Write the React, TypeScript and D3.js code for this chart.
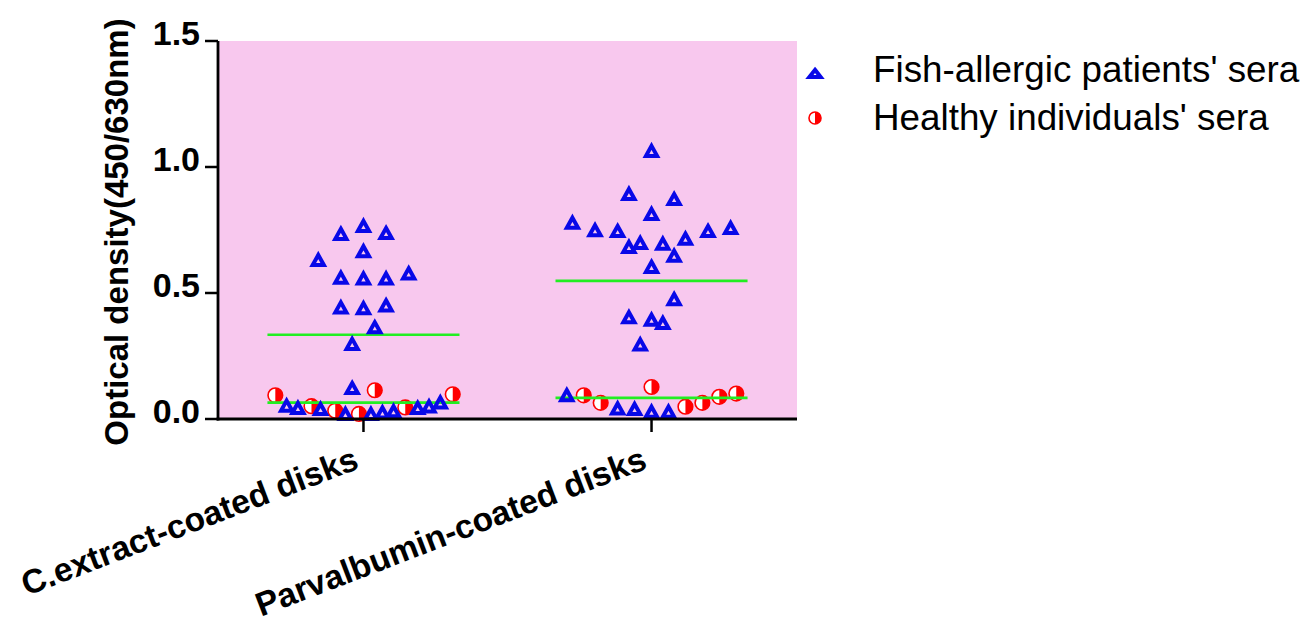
import React from "react";
import * as d3 from "d3";

// ---- data ----
const categories = ["C.extract-coated disks", "Parvalbumin-coated disks"];
const seriesNames = ["Fish-allergic patients' sera", "Healthy individuals' sera"];
const yTicks = [0, 0.5, 1.0, 1.5];
const yTickLabels = ["0.0", "0.5", "1.0", "1.5"];
const yTitle = "Optical density(450/630nm)";

// Fish-allergic patients, C.extract-coated disks (OD values)
const patientsExtract = [
  0.737, 0.768, 0.74, 0.668, 0.633, 0.563, 0.56, 0.56, 0.58, 0.445, 0.442, 0.453, 0.366, 0.3, 0.125,
  0.055, 0.046, 0.042, 0.022, 0.022, 0.028, 0.033, 0.046, 0.052, 0.068,
];
// column-scatter slot (symbol-width units) for each point
const patientsExtractSlot = [
  -1, 0, 1, 0, -2, -1, 0, 1, 2, -1, 0, 1, 0.5, -0.5, -0.5,
  -3.4, -2.9, -1.9, -0.8, 0.33, 0.84, 1.33, 2.4, 2.9, 3.4,
];
// Healthy individuals, C.extract-coated disks
const healthyExtract = [0.094, 0.114, 0.098, 0.051, 0.033, 0.02, 0.046];
const healthyExtractSlot = [-3.9, 0.5, 3.95, -2.3, -1.25, -0.2, 1.85];

// Fish-allergic patients, Parvalbumin-coated disks
const patientsParv = [
  1.066, 0.895, 0.875, 0.816, 0.781, 0.751, 0.748, 0.76, 0.748, 0.685, 0.701, 0.698, 0.718, 0.65, 0.606,
  0.478, 0.406, 0.396, 0.383, 0.298, 0.097, 0.044, 0.042, 0.031, 0.031,
];
const patientsParvSlot = [
  0, -1, 1, 0, -3.5, -2.5, -1.5, 3.5, 2.5, -1, -0.5, 0.5, 1.5, 1, 0,
  1, -1, 0, 0.5, -0.5, -3.75, -1.5, -0.75, 0, 0.75,
];
// Healthy individuals, Parvalbumin-coated disks
const healthyParv = [0.127, 0.094, 0.064, 0.049, 0.064, 0.088, 0.101];
const healthyParvSlot = [0, -3, -2.25, 1.5, 2.25, 3, 3.75];

const patients = [patientsExtract, patientsParv];
const patientsSlots = [patientsExtractSlot, patientsParvSlot];
const healthy = [healthyExtract, healthyParv];
const healthySlots = [healthyExtractSlot, healthyParvSlot];

// ---- layout ----
const W = 1306;
const H = 623;
const plot = { left: 218, right: 797, top: 41, bottom: 419 };
const FONT = "'Liberation Sans', Arial, Helvetica, sans-serif";
const BLUE = "#0808e8";
const RED = "#ff0000";
const GREEN = "#22ee22";
const PINK = "#f8c8ee";

const trianglePath = (sx: number, sy: number) =>
  `M0,${-4.5 * sy}L${5.6 * sx},${5.6 * sy}L${-5.6 * sx},${5.6 * sy}Z`;

function Triangle({ x, y, sx = 1, sy = 1 }: { x: number; y: number; sx?: number; sy?: number }) {
  return (
    <path
      d={trianglePath(sx, sy)}
      transform={`translate(${x},${y})`}
      fill="none"
      stroke={BLUE}
      strokeWidth={4}
      strokeLinejoin="miter"
    />
  );
}

function HalfCircle({ x, y, r = 7.3 }: { x: number; y: number; r?: number }) {
  const arc = d3.arc()({ innerRadius: 0, outerRadius: r, startAngle: 0, endAngle: Math.PI }) as string;
  return (
    <g transform={`translate(${x},${y})`}>
      <circle r={r} fill="#ffffff" stroke={RED} strokeWidth={1.6} />
      <path d={arc} fill={RED} />
    </g>
  );
}

export default function App() {
  const x = d3
    .scalePoint<string>()
    .domain(categories)
    .range([plot.left, plot.right])
    .padding(0.505);
  const y = d3.scaleLinear().domain([0, 1.5]).range([plot.bottom, plot.top]);
  const slot = d3.scaleLinear().domain([0, 1]).range([0, 22.6]);
  const halfLine = x.step() / 3;

  return (
    <svg
      width={W}
      height={H}
      style={{ position: "absolute", left: 0, top: 0, background: "#ffffff" }}
      fontFamily={FONT}
    >
      <rect
        x={plot.left}
        y={plot.top}
        width={plot.right - plot.left}
        height={plot.bottom - plot.top}
        fill={PINK}
      />

      {/* healthy circles */}
      {categories.map((c, ci) =>
        healthy[ci].map((v, i) => (
          <HalfCircle key={`h${ci}-${i}`} x={(x(c) as number) + slot(healthySlots[ci][i])} y={y(v)} />
        ))
      )}

      {/* mean lines */}
      {categories.map((c, ci) => {
        const cx = x(c) as number;
        const mP = d3.mean(patients[ci]) as number;
        const mH = d3.mean(healthy[ci]) as number;
        return (
          <g key={`m${ci}`}>
            <line x1={cx - halfLine} x2={cx + halfLine} y1={y(mP)} y2={y(mP)} stroke={GREEN} strokeWidth={2.6} />
            <line x1={cx - halfLine} x2={cx + halfLine} y1={y(mH)} y2={y(mH)} stroke={GREEN} strokeWidth={2.6} />
          </g>
        );
      })}

      {/* patients triangles */}
      {categories.map((c, ci) =>
        patients[ci].map((v, i) => (
          <Triangle key={`p${ci}-${i}`} x={(x(c) as number) + slot(patientsSlots[ci][i])} y={y(v)} />
        ))
      )}

      {/* y axis */}
      <line x1={plot.left} x2={plot.left} y1={plot.top} y2={plot.bottom + 1.4} stroke="#000" strokeWidth={2.8} />
      {yTicks.map((t, i) => (
        <g key={`yt${i}`}>
          <line x1={plot.left - 13} x2={plot.left} y1={y(t)} y2={y(t)} stroke="#000" strokeWidth={2.5} />
          <text
            x={plot.left - 18}
            y={y(t)}
            dy="0.12em"
            textAnchor="end"
            fontSize={34}
            fontWeight="bold"
            fill="#000"
          >
            {yTickLabels[i]}
          </text>
        </g>
      ))}
      <text
        transform={`translate(128,${(plot.top + plot.bottom) / 2 + 2}) rotate(-90)`}
        textAnchor="middle"
        fontSize={33}
        fontWeight="bold"
        fill="#000"
      >
        {yTitle}
      </text>

      {/* x axis */}
      <line x1={plot.left - 1.4} x2={plot.right} y1={plot.bottom} y2={plot.bottom} stroke="#000" strokeWidth={2.8} />
      {categories.map((c, ci) => {
        const cx = x(c) as number;
        return (
          <g key={`xt${ci}`}>
            <line x1={cx} x2={cx} y1={plot.bottom} y2={plot.bottom + 13} stroke="#000" strokeWidth={2.5} />
            <text
              transform={`translate(${cx - 3},${plot.bottom + 49}) rotate(-21)`}
              textAnchor="end"
              fontSize={33.5}
              fontWeight="bold"
              fill="#000"
            >
              {c}
            </text>
          </g>
        );
      })}

      {/* legend */}
      <g>
        <Triangle x={815} y={73} sx={1.0} sy={0.7} />
        <text x={873} y={82} fontSize={36.8} fill="#000">
          {seriesNames[0]}
        </text>
        <HalfCircle x={815} y={118} r={6} />
        <text x={873} y={130} fontSize={36.8} fill="#000">
          {seriesNames[1]}
        </text>
      </g>
    </svg>
  );
}
